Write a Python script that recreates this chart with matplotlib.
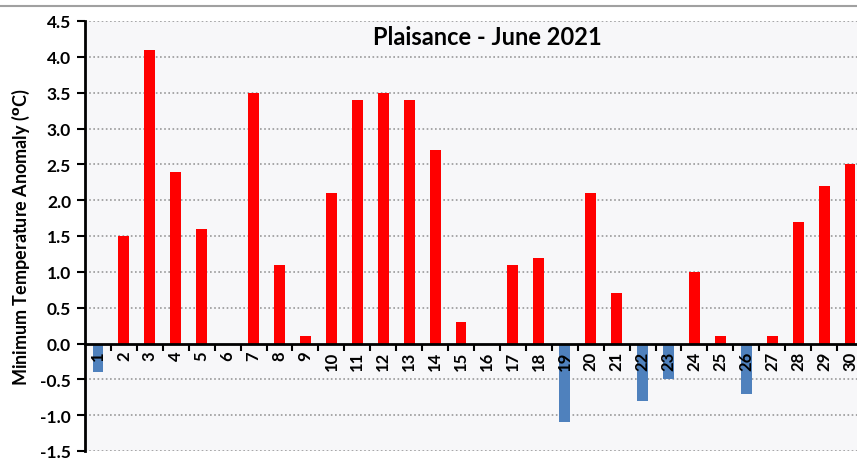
import matplotlib.pyplot as plt
from matplotlib.lines import Line2D
from matplotlib.ticker import FixedLocator, MultipleLocator, FormatStrFormatter

plt.rcParams["font.family"] = ["Lato", "DejaVu Sans"]

# daily minimum temperature anomaly, Plaisance, June 2021
days = list(range(1, 31))
anomaly = [-0.4, 1.5, 4.1, 2.4, 1.6, 0.0, 3.5, 1.1, 0.1, 2.1,
           3.4, 3.5, 3.4, 2.7, 0.3, 0.0, 1.1, 1.2, -1.1, 2.1,
           0.7, -0.8, -0.5, 1.0, 0.1, -0.7, 0.1, 1.7, 2.2, 2.5]
day_labels = [str(d) for d in days]
grid_levels = [-1.5, -1.0, -0.5, 0.5, 1.0, 1.5, 2.0, 2.5, 3.0, 3.5, 4.0, 4.5]

RED = "#FF0000"
BLUE = "#4F81BD"

W, H = 857, 464
fig = plt.figure(figsize=(W / 100, H / 100), dpi=100)
fig.patch.set_facecolor("white")

# plot area runs past the right edge in the original (cropped screenshot)
left_px, right_px, top_px, bot_px = 85, 863, 22, 452
ax = fig.add_axes([left_px / W, (H - bot_px) / H,
                   (right_px - left_px) / W, (bot_px - top_px) / H])
ax.set_facecolor("#F7F7F9")

# grid drawn by hand so it sits under the bars while tick labels stay on top
for lvl in grid_levels:
    ax.axhline(lvl, linestyle=(0, (1, 1.5)), color="#999999", linewidth=1.2, zorder=0.5)

colors = [RED if v >= 0 else BLUE for v in anomaly]
ax.bar(days, anomaly, width=0.42, color=colors, zorder=1)

ax.set_xlim(0.5, 30.5)
ax.set_ylim(-1.5, 4.5)
ax.yaxis.set_major_locator(MultipleLocator(0.5))
ax.yaxis.set_major_formatter(FormatStrFormatter("%.1f"))

for side in ("top", "right"):
    ax.spines[side].set_visible(False)
ax.spines["bottom"].set_position(("data", 0))
ax.spines["bottom"].set_linewidth(2)
ax.spines["left"].set_linewidth(2)

ax.xaxis.set_major_locator(FixedLocator(days))
ax.set_xticklabels(day_labels, rotation=90, fontsize=12, fontweight="bold")
ax.xaxis.set_minor_locator(FixedLocator([d + 0.5 for d in days]))
ax.tick_params(axis="x", which="major", length=0, pad=5)
ax.tick_params(axis="x", which="minor", length=5, width=1.5, direction="out")
for lbl in ax.get_xticklabels():
    lbl.set_verticalalignment("top")

ax.tick_params(axis="y", which="major", length=6, width=1.5, labelsize=12.5, pad=4)
for lbl in ax.get_yticklabels():
    lbl.set_fontweight("bold")

ax.set_ylabel(r"Minimum Temperature Anomaly ($\mathbf{^o}$C)",
              fontsize=13, fontweight="bold", labelpad=6)

title_x = (0.5 * (372 + 603) - left_px) / (right_px - left_px)
ax.text(title_x, 0.965, "Plaisance - June 2021", transform=ax.transAxes,
        ha="center", va="center", fontsize=17, fontweight="bold")

# thin grey frame line across the top of the screenshot
fig.add_artist(Line2D([0, 1], [1 - 7 / H, 1 - 7 / H], color="#A0A0A0",
                      linewidth=1.5, transform=fig.transFigure))

fig.savefig("out.png", dpi=100)
